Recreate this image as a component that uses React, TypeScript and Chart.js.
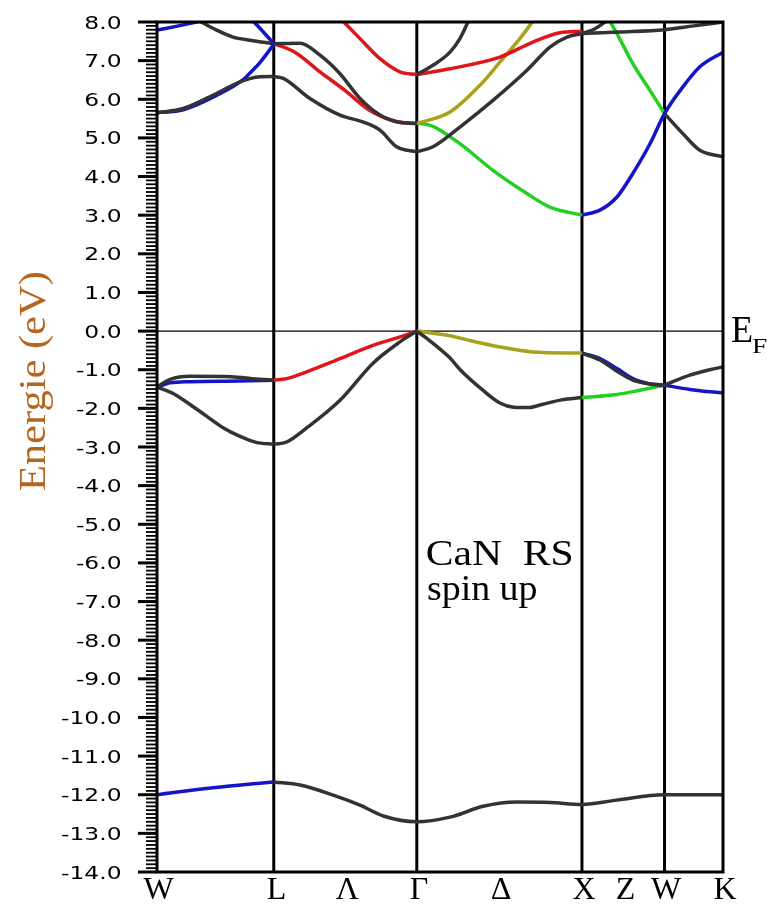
import React, { useEffect, useRef } from 'react';
import { Chart, registerables } from 'chart.js';
Chart.register(...registerables);

// High-symmetry k-points (path length, units of 2π/a)
const K_W = 0, K_L = 0.707, K_G = 1.573, K_X = 2.573, K_W2 = 3.073, K_K = 3.427;
const kLines = [K_L, K_G, K_X, K_W2];
const kLabels = ['W', 'L', 'Λ', 'Γ', 'Δ', 'X', 'Z', 'W', 'K'];
const kLabelPos = [K_W, K_L, 1.14, K_G, 2.073, K_X, 2.823, K_W2, K_K];
const yTicks = [8, 7, 6, 5, 4, 3, 2, 1, 0, -1, -2, -3, -4, -5, -6, -7, -8, -9, -10, -11, -12, -13, -14];

const DARK = '#333333', RED = '#e0161a', BLUE = '#1414c8', GREEN = '#22d022', OLIVE = '#a8a21c';

type P = [number, number];
// N-2s band
const coreWL: P[] = [[0, -12.0], [0.34, -11.82], [0.707, -11.67]];
const coreLK: P[] = [[0.707, -11.67], [0.866, -11.75], [1.067, -12.01], [1.229, -12.27], [1.37, -12.55], [1.573, -12.7], [1.774, -12.58], [1.975, -12.3], [2.177, -12.19], [2.379, -12.2], [2.573, -12.25], [2.782, -12.14], [3.073, -12.0], [3.25, -12.0], [3.427, -12.0]];
// valence bands
const vbWLblue: P[] = [[0, -1.45], [0.08, -1.34], [0.2, -1.31], [0.5, -1.29], [0.707, -1.27]];
const vbWLdark: P[] = [[0, -1.45], [0.08, -1.25], [0.2, -1.17], [0.45, -1.18], [0.6, -1.24], [0.707, -1.27]];
const vbWLlow: P[] = [[0, -1.45], [0.1, -1.62], [0.2, -1.9], [0.3, -2.2], [0.4, -2.5], [0.5, -2.72], [0.6, -2.88], [0.707, -2.93]];
const vbLGred: P[] = [[0.707, -1.27], [0.785, -1.23], [0.902, -1.06], [1.108, -0.71], [1.308, -0.37], [1.471, -0.15], [1.573, 0]];
const vbLGdark: P[] = [[0.707, -2.93], [0.785, -2.87], [0.902, -2.52], [1.108, -1.79], [1.308, -0.83], [1.471, -0.28], [1.573, 0]];
const vbGXolive: P[] = [[1.573, 0], [1.774, -0.12], [1.9, -0.25], [2.076, -0.41], [2.276, -0.54], [2.573, -0.57]];
const vbGXdark: P[] = [[1.573, 0], [1.634, -0.19], [1.77, -0.68], [1.84, -1.02], [1.973, -1.53], [2.076, -1.86], [2.16, -1.97], [2.25, -1.98], [2.33, -1.9], [2.45, -1.78], [2.573, -1.72]];
const vbXWblue: P[] = [[2.573, -0.57], [2.682, -0.71], [2.785, -0.97], [2.881, -1.23], [2.98, -1.36], [3.073, -1.4]];
const vbXWdark: P[] = [[2.573, -0.57], [2.682, -0.75], [2.785, -1.04], [2.881, -1.27], [2.98, -1.37], [3.073, -1.4]];
const vbXWgreen: P[] = [[2.573, -1.72], [2.785, -1.64], [2.924, -1.53], [3.073, -1.4]];
const vbWKdark: P[] = [[3.073, -1.4], [3.226, -1.14], [3.347, -1.0], [3.427, -0.93]];
const vbWKblue: P[] = [[3.073, -1.4], [3.226, -1.51], [3.347, -1.57], [3.427, -1.6]];
// conduction bands
const cbWLdark: P[] = [[0, 5.65], [0.159, 5.76], [0.361, 6.15], [0.502, 6.45], [0.623, 6.58], [0.707, 6.59]];
const cbWLblue: P[] = [[0, 5.65], [0.159, 5.73], [0.361, 6.1], [0.52, 6.5], [0.563, 6.68], [0.623, 6.95], [0.707, 7.42]];
const cbTopBlueW: P[] = [[0, 7.79], [0.13, 7.9], [0.26, 8.02]];
const cbTopDarkWL: P[] = [[0.26, 8.02], [0.361, 7.79], [0.46, 7.61], [0.563, 7.53], [0.707, 7.44]];
const cbTopBlueL: P[] = [[0.583, 8.02], [0.644, 7.74], [0.707, 7.44]];
const cbLGdarkLow: P[] = [[0.707, 6.59], [0.765, 6.54], [0.926, 6.02], [1.108, 5.59], [1.249, 5.41], [1.35, 5.2], [1.451, 4.77], [1.573, 4.64]];
const cbLGred: P[] = [[0.707, 7.44], [0.835, 7.22], [0.987, 6.71], [1.138, 6.23], [1.289, 5.71], [1.441, 5.43], [1.573, 5.37]];
const cbLGdarkMid: P[] = [[0.707, 7.44], [0.866, 7.45], [0.987, 7.14], [1.108, 6.66], [1.229, 6.02], [1.35, 5.59], [1.45, 5.42], [1.573, 5.37]];
const cbLGredTop: P[] = [[1.126, 8.02], [1.229, 7.57], [1.35, 7.05], [1.471, 6.71], [1.573, 6.64]];
const cbGXdarkSteep: P[] = [[1.573, 6.64], [1.671, 6.88], [1.774, 7.22], [1.834, 7.57], [1.885, 8.02]];
const cbGXred: P[] = [[1.573, 6.64], [1.774, 6.79], [2.076, 7.09], [2.276, 7.48], [2.439, 7.72], [2.573, 7.76]];
const cbGXolive: P[] = [[1.573, 5.37], [1.774, 5.67], [1.955, 6.36], [2.076, 6.96], [2.197, 7.57], [2.276, 8.02]];
const cbGXdarkUp: P[] = [[1.573, 4.64], [1.671, 4.77], [1.834, 5.28], [2.034, 5.97], [2.24, 6.75], [2.379, 7.35], [2.482, 7.61], [2.573, 7.7]];
const cbGXgreen: P[] = [[1.573, 5.39], [1.671, 5.3], [1.834, 4.85], [2.034, 4.16], [2.24, 3.56], [2.379, 3.21], [2.573, 3.0]];
const cbXKblue: P[] = [[2.573, 3.0], [2.682, 3.13], [2.785, 3.47], [2.881, 4.08], [2.985, 4.85], [3.073, 5.63], [3.184, 6.32], [3.287, 6.84], [3.427, 7.22]];
const cbXWgreen: P[] = [[2.742, 8.02], [2.785, 7.7], [2.881, 6.92], [2.985, 6.23], [3.073, 5.63]];
const cbWKdark: P[] = [[3.073, 5.63], [3.184, 5.11], [3.287, 4.68], [3.427, 4.51]];
const cbXKdarkTop: P[] = [[2.573, 7.7], [2.8, 7.74], [3.073, 7.8], [3.25, 7.9], [3.427, 8.0]];
const cbXdarkUp: P[] = [[2.573, 7.7], [2.65, 7.82], [2.72, 8.02]];

const bands: [P[], string][] = [
  [coreWL, BLUE], [coreLK, DARK],
  [vbWLdark, DARK], [vbWLblue, BLUE], [vbWLlow, DARK], [vbLGdark, DARK], [vbLGred, RED],
  [vbGXdark, DARK], [vbGXolive, OLIVE], [vbXWdark, DARK], [vbXWblue, BLUE], [vbXWgreen, GREEN],
  [vbWKdark, DARK], [vbWKblue, BLUE],
  [cbWLdark, DARK], [cbWLblue, BLUE], [cbTopBlueW, BLUE], [cbTopDarkWL, DARK], [cbTopBlueL, BLUE],
  [cbLGdarkLow, DARK], [cbLGdarkMid, DARK], [cbLGred, RED], [cbLGredTop, RED],
  [cbGXdarkSteep, DARK], [cbGXdarkUp, DARK], [cbGXred, RED], [cbGXolive, OLIVE], [cbGXgreen, GREEN],
  [cbXKdarkTop, DARK], [cbXdarkUp, DARK], [cbWKdark, DARK], [cbXKblue, BLUE], [cbXWgreen, GREEN],
];

function drawFit(ctx: CanvasRenderingContext2D, text: string, font: string, color: string,
  x: number, y: number, sx: number, rot = 0, inkW?: number) {
  ctx.save();
  ctx.font = font;
  ctx.fillStyle = color;
  ctx.textAlign = 'left';
  ctx.textBaseline = 'alphabetic';
  const m = ctx.measureText(text);
  const w = m.actualBoundingBoxLeft + m.actualBoundingBoxRight;
  const s = inkW ? inkW / w : sx;
  ctx.translate(x, y);
  if (rot) ctx.rotate(rot);
  ctx.scale(s, 1);
  ctx.fillText(text, m.actualBoundingBoxLeft, 0);
  ctx.restore();
}

const decor = {
  id: 'decor',
  beforeDatasetsDraw(chart: any) {
    const { ctx, chartArea: a, scales } = chart;
    const xs = scales.x, ys = scales.y;
    ctx.save();
    ctx.strokeStyle = '#000';
    ctx.lineWidth = 1.2;
    const y0 = ys.getPixelForValue(0);
    ctx.beginPath(); ctx.moveTo(a.left, y0); ctx.lineTo(a.right, y0); ctx.stroke();
    ctx.lineWidth = 3;
    for (const k of kLines) {
      const x = xs.getPixelForValue(k);
      ctx.beginPath(); ctx.moveTo(x, a.top); ctx.lineTo(x, a.bottom); ctx.stroke();
    }
    ctx.restore();
  },
  afterDatasetsDraw(chart: any) {
    const { ctx, chartArea: a, scales } = chart;
    const xs = scales.x, ys = scales.y;
    ctx.save();
    ctx.strokeStyle = '#000';
    ctx.lineWidth = 3;
    ctx.strokeRect(a.left, a.top, a.right - a.left, a.bottom - a.top);
    // minor ticks
    ctx.lineWidth = 1.8;
    for (let i = -140; i <= 80; i++) {
      if (i % 10 === 0) continue;
      const y = ys.getPixelForValue(i / 10);
      ctx.beginPath(); ctx.moveTo(a.left - 11, y); ctx.lineTo(a.left, y); ctx.stroke();
    }
    ctx.lineWidth = 3;
    for (const v of yTicks) {
      const y = ys.getPixelForValue(v);
      ctx.beginPath(); ctx.moveTo(a.left - 19, y); ctx.lineTo(a.left, y); ctx.stroke();
      const t = v.toFixed(1);
      ctx.font = '18px "DejaVu Sans"';
      const m = ctx.measureText(t);
      const w = (m.actualBoundingBoxLeft + m.actualBoundingBoxRight) * 1.3;
      drawFit(ctx, t, '18px "DejaVu Sans"', '#000', 121 - w, y + 6.5, 1.3);
    }
    // k labels
    for (let i = 0; i < kLabels.length; i++) {
      const x = xs.getPixelForValue(kLabelPos[i]);
      ctx.font = '32px "Liberation Serif"';
      const m = ctx.measureText(kLabels[i]);
      const w = m.actualBoundingBoxLeft + m.actualBoundingBoxRight;
      drawFit(ctx, kLabels[i], '32px "Liberation Serif"', '#000', x - w / 2 + 2, 899, 1);
    }
    // axis title
    drawFit(ctx, 'Energie (eV)', '38px "Liberation Serif"', '#b5651d', 45, 490, 1, -Math.PI / 2, 217);
    // E_F
    drawFit(ctx, 'E', '38px "Liberation Serif"', '#000', 732, 342, 1, 0, 20);
    drawFit(ctx, 'F', '22px "Liberation Serif"', '#000', 752, 353, 1, 0, 15);
    // annotation
    drawFit(ctx, 'CaN  RS', '35px "Liberation Serif"', '#000', 427, 565, 1, 0, 145);
    drawFit(ctx, 'spin up', '35px "Liberation Serif"', '#000', 428, 600, 1, 0, 109);
    ctx.restore();
  },
};

export default function App() {
  const ref = useRef<HTMLCanvasElement>(null);
  useEffect(() => {
    if (!ref.current) return;
    const chart = new Chart(ref.current, {
      type: 'line',
      data: {
        datasets: bands.map(([pts, color]) => ({
          data: pts.map(([x, y]) => ({ x, y })),
          borderColor: color,
          borderWidth: 3.5,
          pointRadius: 0,
          fill: false,
          cubicInterpolationMode: 'monotone' as const,
        })),
      },
      options: {
        animation: false,
        responsive: false,
        devicePixelRatio: 1,
        layout: { padding: { left: 157, right: 51, top: 22, bottom: 36 } },
        scales: {
          x: { type: 'linear', min: K_W, max: K_K, display: false },
          y: { type: 'linear', min: -14, max: 8, display: false },
        },
        plugins: { legend: { display: false }, tooltip: { enabled: false } },
      },
      plugins: [decor],
    });
    return () => chart.destroy();
  }, []);
  return (
    <div style={{ position: 'absolute', left: 0, top: 0, width: 774, height: 908, background: '#fff' }}>
      <canvas ref={ref} width={774} height={908} style={{ width: 774, height: 908 }} />
    </div>
  );
}
